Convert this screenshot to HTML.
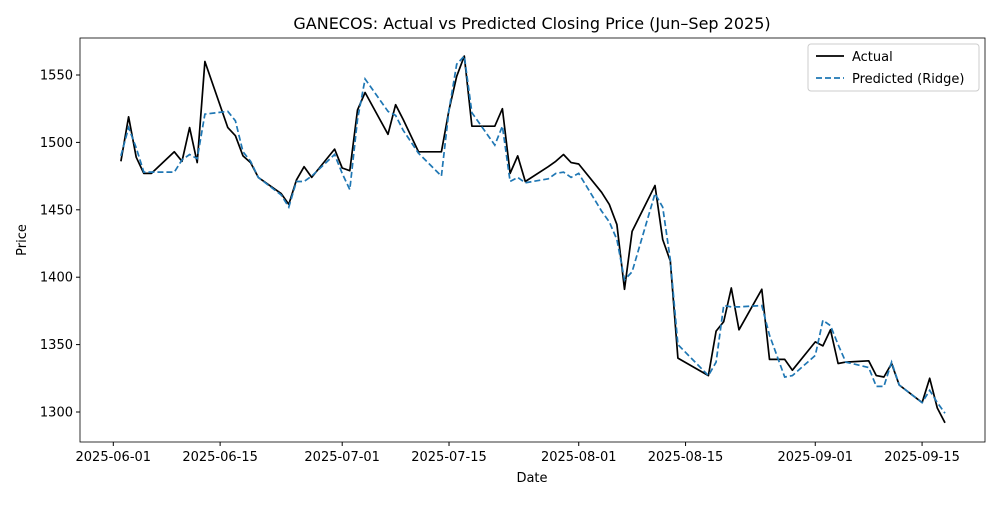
<!DOCTYPE html>
<html><head><meta charset="utf-8"><style>
body{margin:0;background:#fff;width:1000px;height:500px;overflow:hidden}
svg{font-family:"DejaVu Sans","Liberation Sans",sans-serif}
</style></head><body>
<svg id="chart" width="1000" height="500" viewBox="0 0 1000 500" xmlns="http://www.w3.org/2000/svg">
<rect width="1000" height="500" fill="#fff"/>
<text x="532" y="29" text-anchor="middle" font-size="16">GANECOS: Actual vs Predicted Closing Price (Jun–Sep 2025)</text>
<g id="axes"></g>
<g id="series"></g>
<rect x="80" y="38" width="905" height="404" fill="none" stroke="#000" stroke-width="0.8"/>
<text x="532" y="482" text-anchor="middle" font-size="13">Date</text>
<text transform="translate(26,240) rotate(-90)" text-anchor="middle" font-size="13">Price</text>
<g>
<rect x="808" y="44" width="171" height="47" fill="#fff" stroke="#ccc" rx="3"/>
<line x1="816" y1="56" x2="844" y2="56" stroke="#000" stroke-width="1.8"/>
<text x="852" y="61" font-size="13">Actual</text>
<line x1="816" y1="78" x2="844" y2="78" stroke="#1f77b4" stroke-width="1.8" stroke-dasharray="6,3"/>
<text x="852" y="83" font-size="13">Predicted (Ridge)</text>
</g>
</svg>
<script>
const dates=["06-02","06-03","06-04","06-05","06-06","06-09","06-10","06-11","06-12","06-13","06-16","06-17","06-18","06-19","06-20","06-23","06-24","06-25","06-26","06-27","06-30","07-01","07-02","07-03","07-04","07-07","07-08","07-09","07-11","07-14","07-15","07-16","07-17","07-18","07-21","07-22","07-23","07-24","07-25","07-28","07-29","07-30","07-31","08-01","08-04","08-05","08-06","08-07","08-08","08-11","08-12","08-13","08-14","08-18","08-19","08-20","08-21","08-22","08-25","08-26","08-28","08-29","09-01","09-02","09-03","09-04","09-05","09-08","09-09","09-10","09-11","09-12","09-15","09-16","09-17","09-18"];
const actual=[1486,1519,1489,1477,1477,1493,1486,1511,1485,1560,1511,1505,1490,1485,1474,1462,1454,1472,1482,1474,1495,1481,1479,1524,1537,1506,1528,1517,1493,1493,1524,1549,1564,1512,1512,1525,1477,1490,1471,1482,1486,1491,1485,1484,1463,1454,1439,1391,1434,1468,1428,1412,1340,1327,1360,1367,1392,1361,1391,1339,1339,1331,1352,1349,1361,1336,1337,1338,1327,1326,1336,1320,1307,1325,1303,1292];
const predicted=[1490,1511,1496,1478,1478,1478,1487,1491,1488,1521,1523,1516,1493,1486,1474,1461,1452,1471,1471,1475,1491,1477,1465,1517,1547,1523,1520,1509,1492,1475,1524,1558,1564,1522,1498,1512,1471,1474,1470,1473,1477,1478,1474,1477,1449,1441,1428,1398,1404,1462,1452,1413,1350,1327,1337,1379,1378,1378,1379,1357,1326,1327,1342,1368,1364,1350,1337,1333,1319,1319,1337,1320,1307,1316,1307,1299];
const yTicks=[1300,1350,1400,1450,1500,1550];
const xTicks=["2025-06-01","2025-06-15","2025-07-01","2025-07-15","2025-08-01","2025-08-15","2025-09-01","2025-09-15"];
const NS="http://www.w3.org/2000/svg";
const base=Date.UTC(2025,5,1);
function dayOf(s){const p=s.split("-");const n=p.length;return (Date.UTC(2025,+p[n-2]-1,+p[n-1])-base)/864e5;}
function xs(d){return 113.3+d*7.63;}
function ys(v){return 412-(v-1300)*1.348;}
function mk(t,a,p){const e=document.createElementNS(NS,t);for(const k in a)e.setAttribute(k,a[k]);p.appendChild(e);return e;}
const axes=document.getElementById("axes"),ser=document.getElementById("series");
yTicks.forEach(v=>{const y=ys(v);
 const l=mk("line",{x1:76,x2:80,y1:y,y2:y,stroke:"#000"},axes);
 
 
 const t=mk("text",{x:73,y:y+4.5,"text-anchor":"end","font-size":"13"},axes);t.textContent=v;
 
 });
xTicks.forEach(s=>{const x=xs(dayOf(s));
 const l=mk("line",{x1:x,x2:x,y1:442,y2:446,stroke:"#000"},axes);
 
 
 const t=mk("text",{x:x,y:461,"text-anchor":"middle","font-size":"13"},axes);t.textContent=s;
 
 });
function pts(arr){return arr.map((v,i)=>xs(dayOf(dates[i])).toFixed(1)+","+ys(v).toFixed(1)).join(" ");}
const a=mk("polyline",{points:pts(actual),fill:"none",stroke:"#000","stroke-width":1.7,"stroke-linejoin":"round"},ser);


const p=mk("polyline",{points:pts(predicted),fill:"none",stroke:"#1f77b4","stroke-width":1.7,"stroke-dasharray":"6,3"},ser);


</script>
</body></html>
